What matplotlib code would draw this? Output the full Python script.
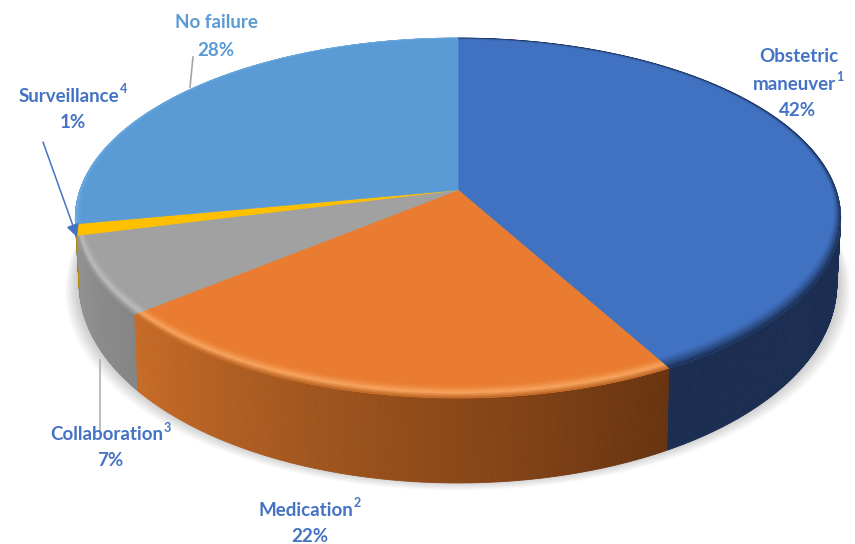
import matplotlib
matplotlib.use('Agg')
import matplotlib.pyplot as plt
import numpy as np
from matplotlib.colors import to_rgb

# Chart data
categories = ['Obstetric maneuver', 'Medication', 'Collaboration', 'Surveillance', 'No failure']
values = [42, 22, 7, 1, 28]
top_colors = ['#4171c1', '#e97c30', '#a1a1a1', '#ffc000', '#5b9bd5']
wall_left = ['#1b2e52', '#c76c28', '#939393', '#b08a10', '#3f6f9e']
wall_right = ['#1b2e52', '#683410', '#858585', '#b08a10', '#3f6f9e']
# rim shading from the outer edge inwards
rim_colors = [
    ['#182b4d', '#2d4f8a', '#4171c1'],
    ['#b9621f', '#f8a560', '#e97c30'],
    ['#8c8c8c', '#bdbdbd', '#a1a1a1'],
    ['#ffc000', '#ffc000', '#ffc000'],
    ['#6fb4ee', '#62a3dd', '#5b9bd5'],
]

# Perspective of the disc, in pixels
cx, cy = 458, 190
A, B, k = 378, 175.6, 0.1556

fig = plt.figure(figsize=(8.55, 5.44), dpi=100)
ax = fig.add_axes([0, 0, 1, 1])
ax.set_xlim(0, 855)
ax.set_ylim(544, 0)
ax.axis('off')


def project(theta, r=1.0, drop=0.0):
    # theta runs clockwise from 12 o'clock, drop 0 = top face, 1 = floor
    u = r * np.sin(theta)
    v = -r * np.cos(theta)
    d = 1 - k * v
    x = cx + A * u / d
    y = cy + B * v / d
    depth = 62 + 23 * (-np.cos(theta))
    return cx + (x - cx) * (1 - 0.01 * drop), y + depth * drop


edges = np.cumsum([0] + values) / sum(values) * 2 * np.pi
full = np.linspace(0, 2 * np.pi, 720)

# Soft shadow under the pie
bx, by = project(full, 1.0, 1.0)
for grow in np.linspace(14, 1, 14):
    sx = cx + (bx - cx) * (1 + grow / 380)
    sy = by + grow * 0.75 - 3
    ax.fill(sx, sy, color='#555555', alpha=0.022, lw=0, zorder=1)

# Side wall, back to front
quads = []
for i in range(len(values)):
    th = np.linspace(edges[i], edges[i + 1], max(int(values[i] * 8), 6))
    c0, c1 = np.array(to_rgb(wall_left[i])), np.array(to_rgb(wall_right[i]))
    for j in range(len(th) - 1):
        f = j / max(len(th) - 2, 1)
        # clockwise means the front of a slice runs right to left
        col = c1 * (1 - f) + c0 * f
        quads.append((-np.cos(th[j]), th[j], th[j + 1], col))
quads.sort(key=lambda q: q[0])
for _, t0, t1, col in quads:
    seg = np.linspace(t0, t1, 3)
    x0, y0 = project(seg, 1.0, 0.0)
    x1, y1 = project(seg, 1.0, 1.0)
    ax.fill(np.r_[x0, x1[::-1]], np.r_[y0, y1[::-1]], color=col, lw=0.6, zorder=2)

# Top face
for i in range(len(values)):
    th = np.linspace(edges[i], edges[i + 1], max(int(values[i] * 8), 6))
    x, y = project(th)
    ax.fill(np.r_[cx, x], np.r_[cy, y], color=top_colors[i], lw=0.5, zorder=3)

    # bevel: narrow at the back and sides, wider towards the viewer
    stops = np.array([to_rgb(c) for c in rim_colors[i]])
    bands = np.linspace(0, 1, 9)
    width = 0.012 + 0.04 * np.maximum(-np.cos(th), 0)
    for b in range(len(bands) - 1):
        tm = (bands[b] + bands[b + 1]) / 2
        col = [np.interp(tm, [0, 0.45, 1], stops[:, n]) for n in range(3)]
        xa, ya = project(th, 1 - bands[b] * width)
        xb, yb = project(th, 1 - bands[b + 1] * width)
        ax.fill(np.r_[xa, xb[::-1]], np.r_[ya, yb[::-1]], color=col, lw=0.3, zorder=4)

# Leader lines
ax.plot([193, 190], [57, 87], color='#a6a6a6', lw=1.2, zorder=5)
ax.plot([100, 100], [360, 430], color='#b0b0b0', lw=1.2, zorder=5)
ax.annotate('', xy=(77, 237), xytext=(43, 142), zorder=6,
            arrowprops=dict(arrowstyle='-|>,head_length=0.75,head_width=0.38', color='#4472c4',
                            lw=1.1, shrinkA=0, shrinkB=0))

# Labels
blue = '#4472c4'
light = '#5b9bd5'
fam = ['Lato', 'DejaVu Sans']
size = 13.5


def label(x, y, text, color, sup=None):
    t = ax.text(x, y, text, color=color, family=fam, weight='bold', size=size,
                ha='center', va='center', zorder=7)
    if sup:
        ext = t.get_window_extent(fig.canvas.get_renderer())
        sx = ax.transData.inverted().transform((ext.x1, ext.y1))
        t.set_x(x - 4)
        ax.text(sx[0] - 3.5, y - 7, sup, color=color, family=fam, weight='bold', size=9,
                ha='left', va='center', zorder=7)


label(799, 56, 'Obstetric', blue)
label(798, 84, 'maneuver', blue, '1')
label(798, 110, f'{values[0]}%', blue)
label(310, 510, 'Medication', blue, '2')
label(310, 537, f'{values[1]}%', blue)
label(111, 435, 'Collaboration', blue, '3')
label(110, 461, f'{values[2]}%', blue)
label(73, 96, 'Surveillance', blue, '4')
label(73, 122, f'{values[3]}%', blue)
label(216, 22, 'No failure', light)
label(216, 50, f'{values[4]}%', light)

fig.savefig('out.png', dpi=100)
